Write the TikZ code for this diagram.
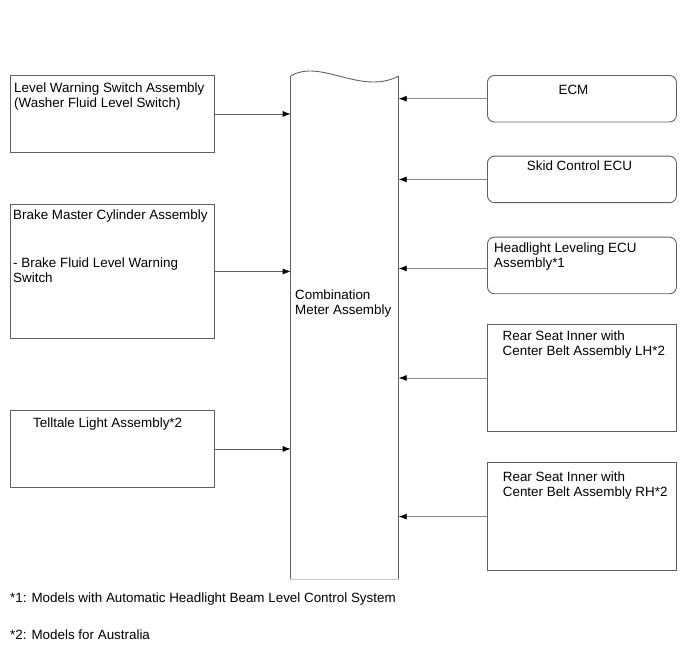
\documentclass[tikz,border=0pt]{standalone}
\usepackage{fontspec}
\setmainfont{Liberation Sans}
\usetikzlibrary{arrows.meta,positioning}
\definecolor{edge}{RGB}{96,96,96}
\definecolor{wire}{RGB}{140,140,140}
\definecolor{pale}{RGB}{200,200,200}

\begin{document}
\begin{tikzpicture}[
x=1pt, y=-1pt,
font=\fontsize{13.4}{15}\selectfont,
lbox/.style={draw=edge, line width=0.9pt, minimum width=204pt, anchor=north west, inner sep=0pt},
rbox/.style={draw=edge, line width=0.9pt, minimum width=189pt, anchor=north west, inner sep=0pt},
rrbox/.style={rbox, rounded corners=7pt},
txt/.style={inner sep=0pt, align=left},
frame/.style={draw=edge, line width=0.9pt},
arrow/.style={-{Latex[length=8pt,width=6pt,black]}, line width=0.8pt}
]
\useasboundingbox (0,0) rectangle (690,659);

% center
\node[minimum width=107.6pt, minimum height=503pt, anchor=north west, inner sep=0pt] (cm) at (290.7,76) {};
\draw[frame] (cm.north west) .. controls +(30,-18) and +(-38,20) .. (cm.north east);
\draw[frame] (cm.north west) -- (cm.south west);
\draw[frame] (cm.north east) -- (cm.south east);
\draw[draw=pale, line width=1.5pt] (cm.south west) -- (cm.south east);
\node[txt, below right=214pt and 4.3pt of cm.north west] (cm-t) {Combination\\Meter Assembly};

% left column
\node[lbox, minimum height=77pt] (lws) at (10,75) {};
\node[lbox, minimum height=134pt] (bmc) at (10,204) {};
\node[lbox, minimum height=77pt] (tla) at (10,410) {};
\node[txt, below right=8pt and 4pt of lws.north west] (lws-t) {Level Warning Switch Assembly\\(Washer Fluid Level Switch)};
\node[txt, below right=6pt and 3pt of bmc.north west] (bmc-t) {Brake Master Cylinder Assembly\\[33pt]- Brake Fluid Level Warning\\Switch};
\node[txt, below right=8pt and 23pt of tla.north west] (tla-t) {Telltale Light Assembly*2};

% right column
\node[rrbox, minimum height=46.5pt] (ecm) at (487,75) {};
\node[rrbox, minimum height=46.5pt] (skid) at (487,155.7) {};
\node[rrbox, minimum height=56.6pt] (hle) at (487,236.7) {};
\node[rbox, minimum height=107pt] (rlh) at (487,324) {};
\node[rbox, minimum height=107.7pt] (rrh) at (487,462.3) {};
\node[txt, below=10pt of ecm.north, xshift=-8.5pt] (ecm-t) {ECM};
\node[txt, below=5pt of skid.north, xshift=-2.5pt] (skid-t) {Skid Control ECU};
\node[txt, below right=6pt and 7pt of hle.north west] (hle-t) {Headlight Leveling ECU\\Assembly*1};
\node[txt, below right=6.7pt and 15.5pt of rlh.north west] (rlh-t) {Rear Seat Inner with\\Center Belt Assembly LH*2};
\node[txt, below right=9.4pt and 15.7pt of rrh.north west] (rrh-t) {Rear Seat Inner with\\Center Belt Assembly RH*2};

% connections
\draw[arrow, draw=edge] (lws.east) -- (lws.east -| cm.west);
\draw[arrow, draw=edge] (bmc.east) -- (bmc.east -| cm.west);
\draw[arrow, draw=edge] (tla.east) -- (tla.east -| cm.west);
\draw[arrow, draw=wire] (ecm.west) -- (ecm.west -| cm.east);
\draw[arrow, draw=wire] (skid.west) -- (skid.west -| cm.east);
\draw[arrow, draw=wire] ([yshift=-3pt]hle.west) -- ([yshift=-3pt]hle.west -| cm.east);
\draw[arrow, draw=wire] (rlh.west) -- (rlh.west -| cm.east);
\draw[arrow, draw=wire] (rrh.west) -- (rrh.west -| cm.east);

% notes
\node[txt, anchor=north west] (fn1) at (10,593) {*1: Models with Automatic Headlight Beam Level Control System};
\node[txt, anchor=north west] (fn2) at (10,630) {*2: Models for Australia};
\end{tikzpicture}
\end{document}
